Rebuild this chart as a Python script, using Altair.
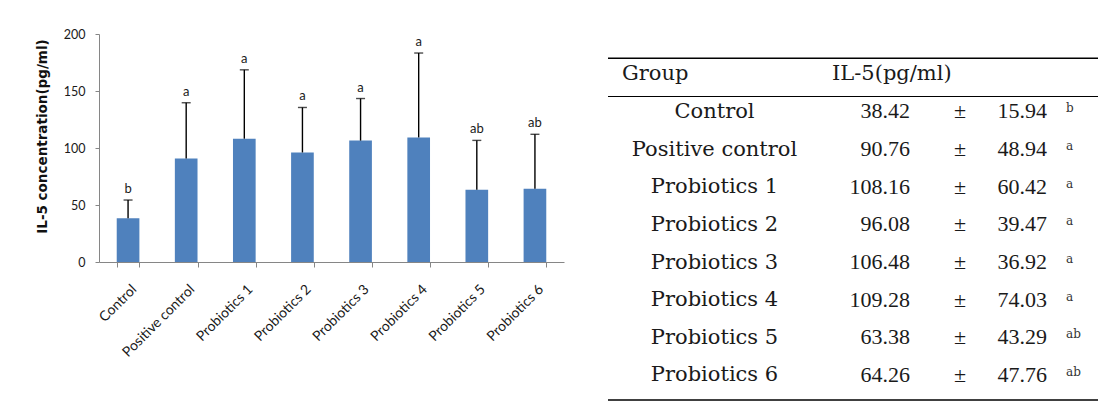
import altair as alt
import pandas as pd

groups = ["Control", "Positive control", "Probiotics 1", "Probiotics 2",
          "Probiotics 3", "Probiotics 4", "Probiotics 5", "Probiotics 6"]
means = [38.42, 90.76, 108.16, 96.08, 106.48, 109.28, 63.38, 64.26]
sds = [15.94, 48.94, 60.42, 39.47, 36.92, 74.03, 43.29, 47.76]
letters = ["b", "a", "a", "a", "a", "a", "ab", "ab"]
y_ticks = [0, 50, 100, 150, 200]
header_labels = ["Group", "IL-5(pg/ml)"]
pm_symbol = "±"

df = pd.DataFrame({"group": groups, "mean": means, "sd": sds, "letter": letters})
df["upper"] = df["mean"] + df["sd"]
df["row"] = list(range(1, len(df) + 1))
df["pm"] = pm_symbol

BAR = "#4F81BD"
AX = "#868686"
SANS = "Lato"
NAME_FONT = "DejaVu Serif"
NUM_FONT = "Liberation Serif"
TXT = "#1a1a1a"

x_enc = alt.X(
    "group:N", sort=groups, title=None,
    scale=alt.Scale(paddingInner=0.61, paddingOuter=0.305),
    axis=alt.Axis(labelAngle=-45, labelFont=SANS, labelFontSize=14, labelColor=TXT,
                  domainColor=AX, tickColor=AX, tickSize=5, tickBand="extent",
                  labelPadding=15, labelOffset=1, labelAlign="right", labelBaseline="top"),
)
y_scale = alt.Scale(domain=[0, 200], nice=False)
y_axis = alt.Axis(values=y_ticks, grid=False, domainColor=AX, tickColor=AX, tickSize=4,
                  labelFont=SANS, labelFontSize=12.5, labelColor=TXT, labelPadding=10,
                  title="IL-5 concentration(pg/ml)", titleFont="DejaVu Sans", titleFontSize=13.5,
                  titleFontWeight="bold", titleColor="#111", titlePadding=14, titleY=102)

base = alt.Chart(df)
bars = base.mark_bar(color=BAR).encode(
    x=x_enc, y=alt.Y("mean:Q", scale=y_scale, axis=y_axis))
err = base.mark_rule(color="black", strokeWidth=1.4).encode(
    x=alt.X("group:N", sort=groups), y="mean:Q", y2="upper:Q")
cap = base.mark_tick(color="black", size=9, thickness=1.4).encode(
    x=alt.X("group:N", sort=groups), y="upper:Q")
lab = base.mark_text(font=SANS, fontSize=13, color=TXT, baseline="alphabetic", dy=-7).encode(
    x=alt.X("group:N", sort=groups), y="upper:Q", text="letter:N")

bar_chart = alt.layer(bars, err, cap, lab).properties(width=465, height=228)

# ---- table ----
t_scale = alt.Scale(domain=[-1.032, 8.692], reverse=True, nice=False, zero=False)
ty = alt.Y("row:Q", scale=t_scale, axis=None)
tbase = alt.Chart(df)
names = tbase.mark_text(font=NAME_FONT, fontSize=21, color=TXT, align="center",
                        baseline="middle", dy=1.5).encode(x=alt.value(114.5), y=ty, text="group:N")
mvals = tbase.mark_text(font=NUM_FONT, fontSize=22, color=TXT, align="right",
                        baseline="middle", dy=1).encode(x=alt.value(310), y=ty,
                                                        text=alt.Text("mean:Q", format=".2f"))
pms = tbase.mark_text(font=NUM_FONT, fontSize=22, color=TXT, align="center",
                      baseline="middle", dy=1).encode(x=alt.value(360), y=ty, text="pm:N")
svals = tbase.mark_text(font=NUM_FONT, fontSize=22, color=TXT, align="right",
                        baseline="middle", dy=1).encode(x=alt.value(447), y=ty,
                                                        text=alt.Text("sd:Q", format=".2f"))
sups = tbase.mark_text(font=NAME_FONT, fontSize=12, color="#333", align="left",
                       baseline="middle", dy=-2).encode(x=alt.value(466), y=ty, text="letter:N")

h1df = pd.DataFrame({"label": [header_labels[0]], "row": [0]})
h2df = pd.DataFrame({"label": [header_labels[1]], "row": [0]})
h1 = alt.Chart(h1df).mark_text(font=NAME_FONT, fontSize=21, color=TXT, align="left",
                               baseline="middle", dy=1.5).encode(
    x=alt.value(22), y=ty, text="label:N")
h2 = alt.Chart(h2df).mark_text(font=NAME_FONT, fontSize=21, color=TXT, align="left",
                               baseline="middle", dy=1.5).encode(
    x=alt.value(232), y=ty, text="label:N")

rbase = alt.Chart(h1df)
top_rule = rbase.mark_rule(color="black", strokeWidth=1.6).encode(
    x=alt.value(8), x2=alt.value(498), y=alt.value(24.3))
mid_rule = rbase.mark_rule(color="black", strokeWidth=1.2).encode(
    x=alt.value(8), x2=alt.value(498), y=alt.value(62.5))
bot_rule = rbase.mark_rule(color="black", strokeWidth=1.6).encode(
    x=alt.value(8), x2=alt.value(498), y=alt.value(366))

table = alt.layer(top_rule, mid_rule, bot_rule, h1, h2, names, mvals, pms, svals, sups).properties(
    width=500, height=366)

chart = alt.hconcat(bar_chart, table, spacing=36).properties(
    padding={"left": 27, "top": 20, "right": 5, "bottom": 5}
).configure_view(stroke=None)

chart.save("out.html", embed_options={"renderer": "svg", "actions": False})
